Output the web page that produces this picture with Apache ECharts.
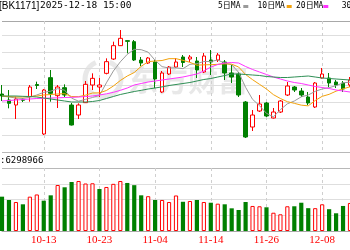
<!DOCTYPE html>
<html><head><meta charset="utf-8">
<script src="https://cdn.jsdelivr.net/npm/echarts@6/dist/echarts.min.js"></script>
<style>html,body{margin:0;padding:0;background:#fff;overflow:hidden}#c{width:350px;height:250px}</style>
</head><body><div id="c"></div>
<script>
const dates = ['09-25','09-26','09-29','09-30','10-09','10-10','10-13','10-14','10-15','10-16','10-17','10-20','10-21','10-22','10-23','10-24','10-27','10-28','10-29','10-30','10-31','11-03','11-04','11-05','11-06','11-07','11-10','11-11','11-12','11-13','11-14','11-17','11-18','11-19','11-20','11-21','11-24','11-25','11-26','11-27','11-28','12-01','12-02','12-03','12-04','12-05','12-08','12-09','12-10','12-11','12-12'];
const tickLabels = ['10-13','10-23','11-04','11-14','11-26','12-08'];
const opens  = [1034.8,1031.2,1028.2,1031.3,1033.2,1040.5,1010.8,1044.6,1033.8,1038.6,1028.2,1022.2,1029.6,1040.2,1039.0,1047.2,1055.8,1063.8,1066.8,1066.2,1055.2,1053.4,1054.0,1036.0,1046.8,1051.0,1057.0,1055.8,1054.6,1048.0,1055.2,1055.2,1054.0,1047.4,1046.8,1030.0,1015.0,1024.6,1029.4,1020.4,1024.0,1034.2,1039.0,1036.6,1033.0,1027.0,1044.4,1044.4,1042.0,1041.4,1040.2];
const closes = [1033.6,1029.2,1031.8,1031.1,1039.0,1039.9,1037.2,1035.2,1039.0,1034.2,1016.2,1028.2,1040.6,1044.2,1040.2,1054.2,1063.8,1068.2,1066.4,1055.2,1053.4,1056.4,1043.8,1047.4,1051.0,1054.0,1053.7,1057.0,1049.2,1057.6,1054.0,1058.2,1047.4,1045.0,1034.2,1009.0,1022.2,1028.8,1021.6,1024.0,1030.6,1039.6,1037.2,1034.2,1029.4,1041.4,1046.8,1041.4,1040.2,1037.8,1043.2];
const lows   = [1030.6,1026.2,1019.8,1030.0,1030.2,1037.8,1010.2,1030.2,1026.4,1033.0,1015.9,1019.8,1029.4,1037.2,1033.0,1046.6,1055.2,1063.6,1059.2,1054.6,1051.6,1052.8,1038.4,1035.4,1046.2,1050.4,1051.0,1054.0,1044.4,1047.4,1046.2,1054.0,1043.2,1041.4,1033.0,1008.4,1012.6,1024.0,1021.0,1020.1,1023.4,1033.6,1036.0,1033.0,1028.2,1026.4,1044.1,1039.0,1038.4,1036.0,1039.0];
const highs  = [1040.2,1037.2,1033.2,1032.4,1040.2,1042.2,1037.8,1049.2,1040.2,1040.6,1029.4,1029.2,1042.6,1047.2,1044.4,1056.2,1066.2,1073.2,1066.9,1067.2,1057.0,1057.0,1055.2,1048.6,1051.6,1056.4,1058.2,1058.2,1057.0,1059.4,1061.2,1059.4,1055.2,1052.2,1048.0,1030.6,1025.2,1034.2,1030.0,1026.4,1031.2,1042.0,1039.6,1038.4,1036.0,1042.0,1050.4,1047.4,1043.2,1042.6,1045.0];
const volumes = [4360000,3940000,3680000,3390000,4360000,4640000,3850000,4530000,5840000,5550000,6220000,6350000,6030000,6060000,5330000,5590000,5990000,6350000,6100000,5820000,4530000,4420000,3940000,3940000,3680000,4510000,3710000,3810000,3940000,3680000,3590000,3470000,3390000,2880000,2670000,3680000,3180000,3140000,3010000,2320000,2120000,3140000,3140000,3590000,2900000,2900000,3390000,2770000,2250000,3180000,3560000];
const ma5  = [1033.6,1033.0,1032.4,1032.1,1032.9,1034.2,1035.8,1036.5,1038.0,1037.1,1032.3,1030.5,1031.6,1032.7,1033.9,1041.5,1048.6,1054.1,1058.6,1061.6,1061.4,1059.9,1055.0,1051.2,1050.4,1050.5,1050.0,1052.6,1053.0,1054.3,1054.3,1055.2,1053.3,1052.4,1047.8,1038.8,1031.6,1027.8,1023.2,1021.1,1025.4,1028.9,1030.6,1033.1,1034.2,1036.4,1037.8,1038.6,1039.8,1041.5,1041.9];
const ma10 = [1033.6,1033.3,1033.0,1033.0,1033.3,1033.6,1034.2,1034.5,1034.8,1035.0,1033.3,1033.2,1034.1,1035.4,1035.5,1036.9,1039.6,1042.9,1045.6,1047.7,1051.4,1054.2,1054.6,1054.9,1056.0,1056.0,1055.0,1053.8,1052.1,1052.3,1052.4,1052.6,1052.9,1052.7,1051.0,1046.5,1043.4,1040.6,1037.8,1034.4,1032.1,1030.2,1029.2,1028.1,1027.7,1030.9,1033.4,1034.6,1036.5,1037.9,1039.1];
const ma20 = [1030.6,1030.9,1031.2,1031.5,1031.8,1032.1,1032.2,1032.4,1032.5,1032.7,1032.8,1033.0,1033.3,1033.6,1034.2,1034.9,1035.8,1037.0,1038.4,1040.2,1041.1,1042.0,1042.6,1043.2,1043.8,1044.4,1045.0,1045.9,1046.8,1048.6,1051.0,1052.5,1053.4,1053.7,1053.4,1051.3,1049.5,1048.0,1046.5,1045.0,1043.8,1042.6,1041.7,1041.1,1040.2,1039.3,1038.7,1038.1,1037.2,1036.6,1036.0];
const ma30 = [1033.6,1033.6,1033.6,1033.4,1033.3,1033.0,1032.4,1031.8,1031.2,1030.6,1030.0,1030.0,1030.0,1030.3,1030.9,1032.1,1033.3,1034.5,1035.4,1036.3,1037.0,1037.8,1038.4,1039.1,1039.9,1040.5,1041.1,1041.7,1042.6,1043.5,1044.1,1045.0,1045.9,1046.8,1046.8,1046.5,1046.2,1045.9,1045.3,1045.0,1044.7,1044.7,1045.0,1045.3,1045.6,1045.0,1044.4,1044.1,1043.8,1043.5,1043.2];
const maNames = ['5日MA','10日MA','20日MA','30日MA'];
const maColors = ['#9a9a9a','#f2a20c','#ff33ff','#2f8f55'];
const titleCode = '[BK1171]';
const titleTime = '2025-12-18 15:00';
const volHeader = ':6298966';

const RED = '#ff0000', GREEN = '#008000';
const chart = echarts.init(document.getElementById('c'));
const candleData = dates.map((d, i) => [opens[i], closes[i], lows[i], highs[i]]);
const volData = volumes.map((v, i) => {
  const prev = i > 0 ? closes[i - 1] : opens[i];
  const up = closes[i] >= prev;
  return { value: v, itemStyle: up ? { color: '#ffffff', borderColor: RED, borderWidth: 1 } : { color: GREEN, borderColor: GREEN, borderWidth: 0 } };
});
const isTick = (idx) => tickLabels.indexOf(dates[idx]) >= 0;
const gridLeft = 2, gridW = 349;
const xBase = {
  type: 'category', data: dates, boundaryGap: false,
  axisTick: { show: false },
  splitLine: { show: true, interval: (i) => isTick(i), lineStyle: { color: '#cfcfcf', type: [3, 3], width: 1 } }
};
const maSeries = [ma5, ma10, ma20, ma30].map((d, k) => ({
  type: 'line', name: maNames[k], data: d, xAxisIndex: 0, yAxisIndex: 0,
  symbol: 'none', smooth: false, lineStyle: { color: maColors[k], width: 1 }, z: 4, silent: true
}));
const legendEls = [];
const legX = [218, 257.5, 296, 341.7];
maNames.forEach((n, k) => {
  legendEls.push({ type: 'text', left: legX[k], top: 2, style: { text: n, font: '8px "DejaVu Sans Mono", "Noto Sans CJK SC"', fill: '#000' } });
});
const markX = [243.3, 286.7, 323.3];
markX.forEach((x, k) => legendEls.push({ type: 'rect', shape: { x: x, y: 5, width: 5, height: 3 }, style: { fill: maColors[k] } }));

chart.setOption({
  animation: false,
  backgroundColor: '#ffffff',
  grid: [
    { left: gridLeft, width: gridW, top: 21, height: 131 },
    { left: gridLeft, width: gridW, top: 168, height: 63 }
  ],
  xAxis: [
    Object.assign({}, xBase, { gridIndex: 0, axisLine: { show: false }, axisLabel: { show: false } }),
    Object.assign({}, xBase, { gridIndex: 1, axisLine: { show: true, lineStyle: { color: '#a8a8a8' } },
      axisLabel: { show: true, interval: (i) => isTick(i), color: RED, fontFamily: 'Liberation Serif', fontSize: 11, margin: 4 } })
  ],
  yAxis: [
    { type: 'value', gridIndex: 0, min: 1000, max: 1078.6, interval: 10, axisLine: { show: false }, axisTick: { show: false }, axisLabel: { show: false },
      splitLine: { lineStyle: { color: ['#b8b8b8','#dedede','#dedede','#dedede','#dedede','#dedede','#dedede','#dedede','#a8a8a8'], width: 1 } } },
    { type: 'value', gridIndex: 1, min: 0, max: 8000000, interval: 2000000, axisLine: { show: false }, axisTick: { show: false }, axisLabel: { show: false },
      splitLine: { lineStyle: { color: ['#a8a8a8','#dedede','#dedede','#dedede','#b8b8b8'], width: 1 } } }
  ],
  graphic: [
    { type: 'group', z: -10, silent: true, children: [
      { type: 'arc', shape: { cx: 103, cy: 79, r: 18, startAngle: -1.2, endAngle: 4.3 }, style: { stroke: 'rgba(190,190,190,0.35)', lineWidth: 5, fill: null } },
      { type: 'text', x: 128, y: 80, style: { text: '东方财富', font: 'bold 30px "Noto Sans CJK SC"', fill: 'rgba(190,190,190,0.35)', stroke: 'rgba(255,255,255,0.5)', lineWidth: 1, verticalAlign: 'middle' } }
    ]},
    { type: 'text', left: -1, top: 1, style: { text: titleCode, font: '10px "Liberation Sans"', fill: '#000' } },
    { type: 'text', left: 40, top: 1, style: { text: titleTime, font: '9.5px "DejaVu Sans Mono"', fill: '#000' } },
    { type: 'text', left: 0, top: 156, style: { text: volHeader, font: '9px "DejaVu Sans Mono"', fill: '#000' } }
  ].concat(legendEls),
  series: [
    { type: 'candlestick', data: candleData, xAxisIndex: 0, yAxisIndex: 0, barWidth: 4, clip: false, z: 3,
      itemStyle: { color: '#ffffff', borderColor: RED, color0: GREEN, borderColor0: GREEN, borderWidth: 1 } }
  ].concat(maSeries).concat([
    { type: 'bar', data: volData, xAxisIndex: 1, yAxisIndex: 1, barWidth: 4.2, clip: false }
  ])
});
</script></body></html>
